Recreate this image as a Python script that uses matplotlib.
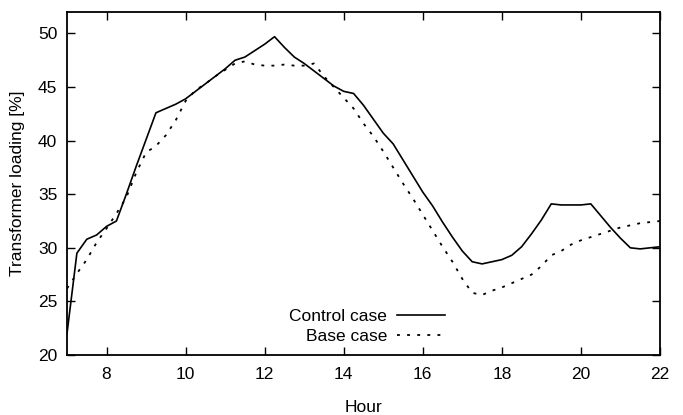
import matplotlib
matplotlib.use("Agg")
import matplotlib.pyplot as plt
import numpy as np

hours = [7.0 + 0.25 * i for i in range(61)]

control = [22.0, 29.5, 30.8, 31.2, 32.0, 32.5, 35.0, 37.6, 40.1, 42.6,
           43.0, 43.4, 43.9, 44.6, 45.3, 46.0, 46.7, 47.5, 47.8, 48.4,
           49.0, 49.7, 48.7, 47.8, 47.2, 46.5, 45.8, 45.1, 44.6, 44.4,
           43.3, 42.0, 40.7, 39.7, 38.2, 36.7, 35.2, 33.9, 32.4, 31.0,
           29.7, 28.7, 28.5, 28.7, 28.9, 29.3, 30.1, 31.3, 32.6, 34.1,
           34.0, 34.0, 34.0, 34.1, 33.0, 31.9, 30.9, 30.0, 29.9, 30.0,
           30.1]

base = [26.2, 27.6, 28.9, 30.5, 31.8, 33.2, 34.7, 37.0, 38.9, 39.5,
        40.5, 41.9, 43.7, 44.7, 45.3, 46.0, 46.6, 47.2, 47.4, 47.1,
        47.0, 47.0, 47.1, 47.0, 47.0, 47.2, 46.0, 45.0, 44.0, 43.0,
        41.6, 40.4, 39.0, 37.5, 36.0, 34.6, 33.1, 31.6, 30.1, 28.7,
        27.1, 25.8, 25.6, 26.0, 26.3, 26.7, 27.1, 27.5, 28.3, 29.3,
        29.7, 30.3, 30.7, 31.0, 31.3, 31.6, 31.9, 32.1, 32.3, 32.4,
        32.5]

xticks = [8, 10, 12, 14, 16, 18, 20, 22]
yticks = [20, 25, 30, 35, 40, 45, 50]

plt.rcParams['font.family'] = ['Liberation Sans', 'DejaVu Sans']
FS = 12.5
fig = plt.figure(figsize=(6.83, 4.15), dpi=100)
ax = fig.add_axes([0.0981, 0.1446, 0.8682, 0.8264])

ax.plot(hours, control, color='black', lw=1.2, label='Control case')
ax.plot(hours, base, color='black', lw=1.3, linestyle=(0, (1.6, 4.0)), label='Base case')

ax.set_xlim(7, 22)
ax.set_ylim(20, 52)
ax.set_xticks(xticks)
ax.set_yticks(yticks)
ax.tick_params(direction='in', top=True, right=True, length=6, width=1,
               labelsize=FS)
ax.tick_params(axis='x', pad=9)
ax.tick_params(axis='y', pad=7)
for s in ax.spines.values():
    s.set_linewidth(1.3)

ax.set_xlabel('Hour', fontsize=FS, labelpad=12.5)
ax.set_ylabel('Transformer loading [%]', fontsize=FS, labelpad=9)

leg = ax.legend(loc='lower right', bbox_to_anchor=(0.649, 0.012), frameon=False,
                markerfirst=False, fontsize=FS, handlelength=2.76,
                handletextpad=0.58, labelspacing=0.25, borderaxespad=0)
for t in leg.get_texts():
    t.set_ha('right')

fig.savefig('out.png', dpi=100)
